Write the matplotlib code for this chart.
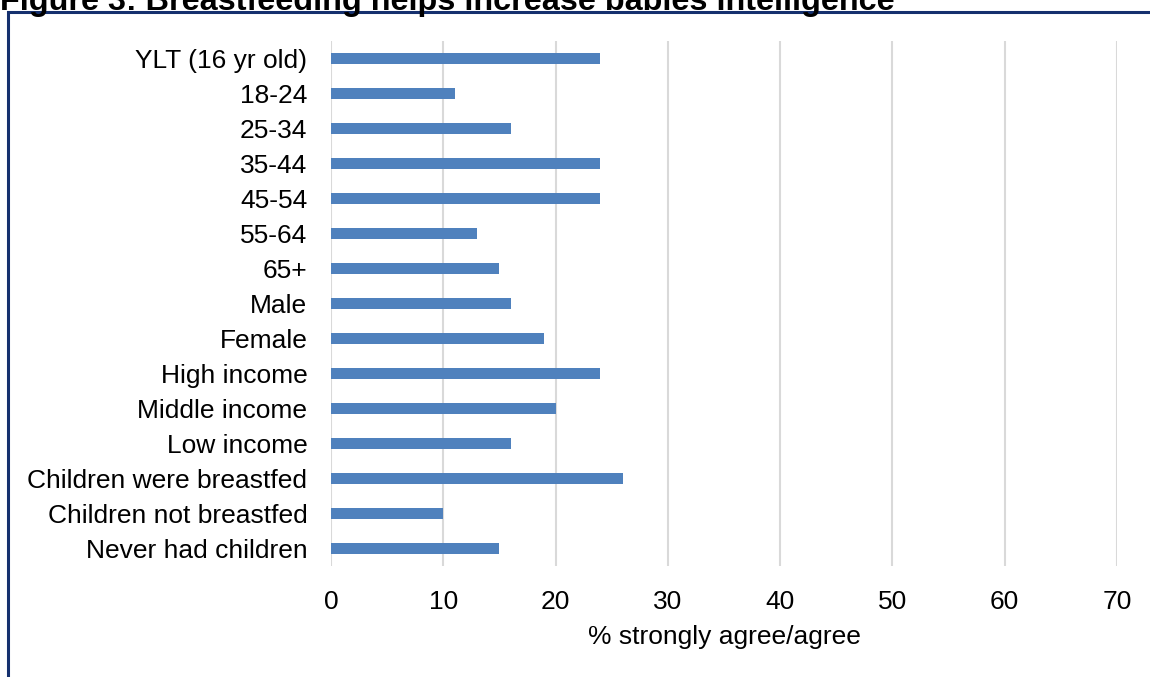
import matplotlib
matplotlib.use("Agg")
import matplotlib.pyplot as plt
from matplotlib.patches import Rectangle

# Share agreeing that breastfeeding boosts intelligence, by group
groups = [
    "YLT (16 yr old)", "18-24", "25-34", "35-44", "45-54", "55-64", "65+",
    "Male", "Female", "High income", "Middle income", "Low income",
    "Children were breastfed", "Children not breastfed", "Never had children",
]
pct_agree = [24, 11, 16, 24, 24, 13, 15, 16, 19, 24, 20, 16, 26, 10, 15]

x_ticks = [0, 10, 20, 30, 40, 50, 60, 70]

plt.rcParams["font.family"] = ["Liberation Sans", "DejaVu Sans"]

W, H = 1150, 677
fig = plt.figure(figsize=(W / 100, H / 100), dpi=100)

# frame around the figure (right and bottom edges run off the page)
fig.patches.append(Rectangle((8 / W, -0.1), 1.2, 1 - 12 / H + 0.1,
                             transform=fig.transFigure, fill=False,
                             edgecolor="#15306E", linewidth=2.2))

fig.text(0.0, 1 - 10 / H, "Figure 3: Breastfeeding helps increase babies intelligence",
         fontsize=23.3, fontweight="bold", ha="left", va="baseline", color="black")

ax = fig.add_axes([331 / W, 1 - 566 / H, (1117 - 331) / W, (566 - 41) / H])

y = range(len(groups))
ax.barh(y, pct_agree, height=0.32, color="#4F81BD", zorder=3)

ax.set_ylim(len(groups) - 0.5, -0.5)
ax.set_xlim(0, 70)
ax.set_yticks(list(y))
ax.set_yticklabels(groups, fontsize=19)
ax.set_xticks(x_ticks)
ax.set_xticklabels([str(t) for t in x_ticks], fontsize=19)
ax.tick_params(axis="both", length=0)
ax.tick_params(axis="y", pad=17)
ax.tick_params(axis="x", pad=17)

ax.xaxis.grid(True, color="#D9D9D9", linewidth=1.5, zorder=0)
ax.set_axisbelow(True)
for s in ax.spines.values():
    s.set_visible(False)

ax.set_xlabel("% strongly agree/agree", fontsize=19, labelpad=8)

fig.savefig("out.png", dpi=100)
